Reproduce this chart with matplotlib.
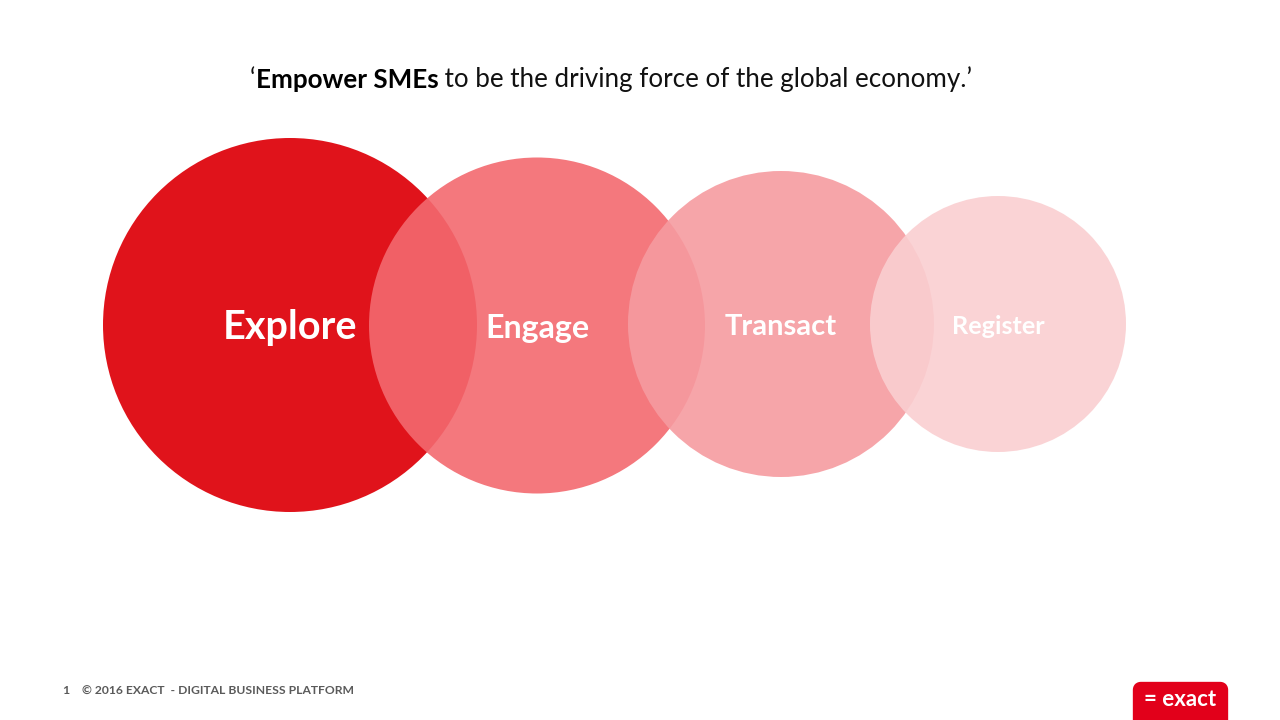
import matplotlib
matplotlib.use("Agg")
import matplotlib.pyplot as plt
from matplotlib.patches import Circle, FancyBboxPatch

stages = ["Explore", "Engage", "Transact", "Register"]
centers_x = [290, 537, 781, 998]
centers_y = [325, 325.5, 324, 324]
radii = [187, 168, 153, 128]
colors = ["#E0131B", "#F3696F", "#F69BA0", "#FACFD1"]
alphas = [1.0, 0.9, 0.9, 0.9]
label_sizes = [28.5, 23.2, 21, 18.2]
title_bold = "Empower SMEs"
title_rest = " to be the driving force of the global economy.’"
footer_num = "1"
footer_text = "© 2016 EXACT  - DIGITAL BUSINESS PLATFORM"
logo_text = "= exact"

FONT = ["Lato", "DejaVu Sans"]
plt.rcParams["font.family"] = FONT

fig = plt.figure(figsize=(12.8, 7.2), dpi=100)
ax = fig.add_axes([0, 0, 1, 1])
ax.set_xlim(0, 1280)
ax.set_ylim(720, 0)
ax.axis("off")

for i, s in enumerate(stages):
    ax.add_patch(Circle((centers_x[i], centers_y[i]), radii[i], fc=colors[i],
                        alpha=alphas[i], ec="none", zorder=i + 1))
    ax.text(centers_x[i], centers_y[i] + 3, s, color="white", fontsize=label_sizes[i],
            fontweight="bold", ha="center", va="center", zorder=10)

t0 = ax.text(250, 87, "‘", fontsize=18.75, color="#111111", ha="left", va="baseline")
t1 = ax.annotate(title_bold, xy=(1, 0), xycoords=t0, xytext=(0, 0), textcoords="offset points",
                 fontsize=18.75, fontweight="bold", color="#000000", ha="left", va="bottom")
t2 = ax.annotate(title_rest, xy=(1, 0), xycoords=t1, xytext=(0, 0), textcoords="offset points",
                 fontsize=18.75, color="#111111", ha="left", va="bottom")

ax.text(62, 691, footer_num, fontsize=8.8, fontweight="bold", color="#5A5A5A", ha="left", va="center")
ax.text(82, 691, footer_text, fontsize=8.8 * 273 / 276, fontweight="bold", color="#5A5A5A", ha="left", va="center")

ax.add_patch(FancyBboxPatch((1137, 686), 87, 50, boxstyle="round,pad=0,rounding_size=4",
                            mutation_scale=1, fc="#E2001A", ec="#E2001A", lw=6, zorder=5,
                            joinstyle="round"))
ax.text(1180.5, 699, logo_text, fontsize=16, fontweight="bold", color="white",
        ha="center", va="center", zorder=6)

fig.savefig("out.png", dpi=100)
